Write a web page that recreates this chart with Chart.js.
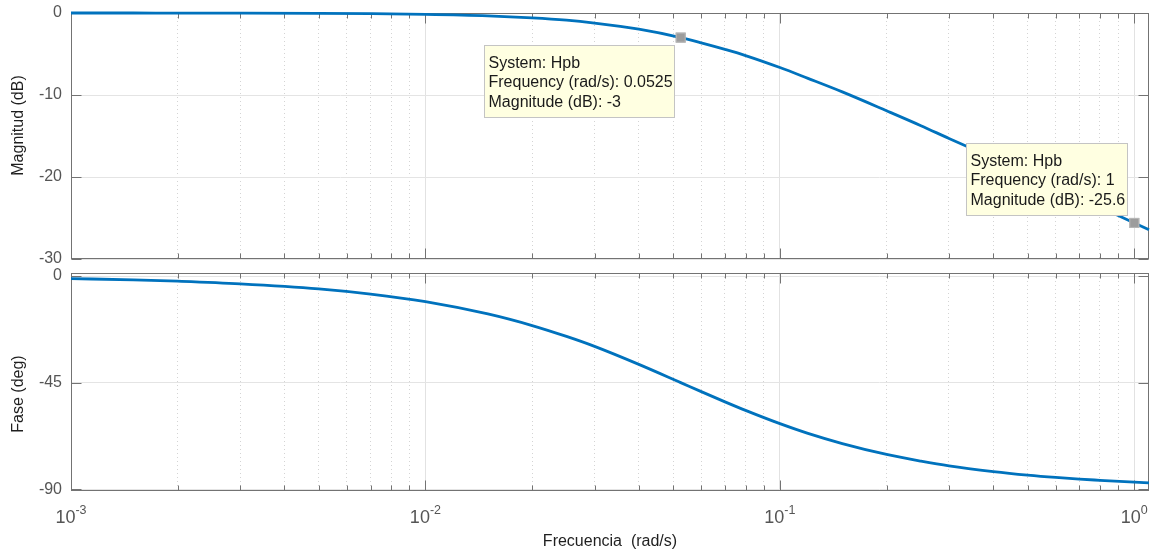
<!DOCTYPE html>
<html>
<head>
<meta charset="utf-8">
<script src="https://cdn.jsdelivr.net/npm/chart.js@4/dist/chart.umd.min.js"></script>
<style>
  body { margin: 0; background: #fff; }
  #wrap { position: relative; width: 1152px; height: 556px; }
  canvas { position: absolute; left: 0; }
</style>
</head>
<body>
<div id="wrap">
  <canvas id="mag" width="1152" height="268" style="top:0px"></canvas>
  <canvas id="phase" width="1152" height="292" style="top:264px"></canvas>
</div>
<script>
// values (rad/s, dB, deg)
const freq = [0.001, 0.0015, 0.002, 0.003, 0.005, 0.007, 0.01, 0.015, 0.02, 0.025,
  0.03, 0.04, 0.0525, 0.06, 0.07, 0.08, 0.1, 0.12, 0.15, 0.2,
  0.25, 0.3, 0.4, 0.5, 0.6, 0.7, 0.8, 1, 1.1];
const magnitude = [0, 0, -0.01, -0.01, -0.04, -0.08, -0.16, -0.34, -0.59, -0.88,
  -1.24, -1.98, -3.0, -3.64, -4.44, -5.19, -6.65, -7.97, -9.62, -11.92,
  -13.74, -15.3, -17.71, -19.62, -21.19, -22.52, -23.68, -25.6, -26.43];
const phase = [-1.1, -1.6, -2.2, -3.3, -5.4, -7.6, -10.8, -16.0, -20.9, -25.5,
  -29.7, -37.3, -45, -48.8, -53.1, -56.7, -62.3, -66.4, -70.7, -75.3,
  -78.1, -80.1, -82.5, -84.0, -85.0, -85.7, -86.2, -87.0, -87.3];

const magTicks = [0, -10, -20, -30];
const phaseTicks = [0, -45, -90];
const decades = [0.001, 0.01, 0.1, 1];
const decadeExp = ['-3', '-2', '-1', '0'];

// data tips
const tipFreq = [0.0525, 1];
const tipMag = [-3, -25.6];
const tipLines = [
  ['System: Hpb', 'Frequency (rad/s): 0.0525', 'Magnitude (dB): -3'],
  ['System: Hpb', 'Frequency (rad/s): 1', 'Magnitude (dB): -25.6']
];

const FONT = "'Liberation Sans', Arial, sans-serif";
const BLUE = '#0072BD';

// minor ticks 1..9 per decade
const xTickValues = [];
for (let i = 0; i < decades.length - 1; i++) {
  for (let k = 1; k < 10; k++) xTickValues.push(decades[i] * k);
}
xTickValues.push(decades[decades.length - 1]);

function line(ctx, x1, y1, x2, y2) {
  ctx.beginPath(); ctx.moveTo(x1, y1); ctx.lineTo(x2, y2); ctx.stroke();
}

function noPad(s) {
  s.paddingTop = 0; s.paddingBottom = 0; s.paddingLeft = 0; s.paddingRight = 0;
}

const bode = {
  id: 'bode',
  beforeDatasetsDraw(chart) {
    const {ctx, chartArea: a, scales: {x, y}} = chart;
    ctx.save();
    ctx.strokeStyle = '#737373';
    ctx.lineWidth = 1;
    const L = Math.round(a.left) + 0.5, R = Math.round(a.right) - 0.5;
    const T = Math.round(a.top) + 0.5, B = Math.round(a.bottom) - 0.5;
    ctx.strokeRect(L, T, R - L, B - T);
    x.ticks.forEach(t => {
      const px = Math.round(x.getPixelForValue(t.value)) + 0.5;
      const len = t.major ? 10 : 5;
      line(ctx, px, T, px, T + len);
      line(ctx, px, B, px, B - len);
    });
    y.ticks.forEach(t => {
      const py = Math.round(y.getPixelForValue(t.value)) + 0.5;
      line(ctx, L, py, L + 10, py);
      line(ctx, R, py, R - 10, py);
    });
    ctx.restore();
  },
  afterDraw(chart, args, opts) {
    const {ctx, scales: {x, y}} = chart;
    ctx.save();
    // y title
    ctx.translate(opts.titleX, opts.titleY);
    ctx.rotate(-Math.PI / 2);
    ctx.font = '16px ' + FONT;
    ctx.fillStyle = '#1f1f1f';
    ctx.textAlign = 'center';
    ctx.textBaseline = 'middle';
    ctx.fillText(opts.title, 0, 0);
    ctx.restore();

    if (opts.xLabels) {
      ctx.save();
      ctx.fillStyle = '#555';
      ctx.textBaseline = 'alphabetic';
      ctx.textAlign = 'left';
      decades.forEach((d, i) => {
        const px = x.getPixelForValue(d);
        ctx.font = '18px ' + FONT;
        const w1 = ctx.measureText('10').width;
        ctx.font = '12.5px ' + FONT;
        const w2 = ctx.measureText(decadeExp[i]).width;
        const sx = px - (w1 + w2) / 2;
        ctx.font = '18px ' + FONT;
        ctx.fillText('10', sx, opts.labelBase);
        ctx.font = '12.5px ' + FONT;
        ctx.fillText(decadeExp[i], sx + w1, opts.labelBase - 9);
      });
      ctx.restore();
    }

    if (opts.tips) {
      ctx.save();
      tipFreq.forEach((f, i) => {
        const px = x.getPixelForValue(f), py = y.getPixelForValue(tipMag[i]);
        const off = opts.tips[i];
        const bx = Math.round(px + off[0]) + 0.5, by = Math.round(py + off[1]) + 0.5;
        ctx.font = '16px ' + FONT;
        const w = Math.round(Math.max(...tipLines[i].map(s => ctx.measureText(s).width))) + 6;
        const h = 72;
        ctx.fillStyle = '#ffffe1';
        ctx.strokeStyle = '#c4c4c4';
        ctx.lineWidth = 1;
        ctx.fillRect(bx, by, w, h);
        ctx.strokeRect(bx, by, w, h);
        ctx.fillStyle = '#1a1a1a';
        ctx.textBaseline = 'middle';
        tipLines[i].forEach((s, j) => ctx.fillText(s, bx + 4, by + 18 + j * 19.5));
        ctx.fillStyle = '#9c9c9c';
        ctx.fillRect(px - 5, py - 5, 10, 10);
        ctx.strokeStyle = '#b8b8b8';
        ctx.strokeRect(px - 4.5, py - 4.5, 9, 9);
      });
      ctx.restore();
    }
  }
};

function xAxis(h, title) {
  return {
    type: 'logarithmic',
    min: 0.001,
    max: 1.1,
    afterBuildTicks: s => { s.ticks = xTickValues.map(v => ({value: v, major: decades.includes(v)})); },
    afterFit: s => { s.height = h; noPad(s); },
    ticks: {display: false, autoSkip: false},
    grid: {
      drawTicks: false,
      lineWidth: 1,
      color: c => (c.tick && c.tick.major) ? '#e2e2e2' : '#d4d4d4'
    },
    border: {display: false, dash: c => (c.tick && c.tick.major) ? [] : [1, 3]},
    title: title ? {
      display: true, text: title, color: '#1f1f1f',
      font: {family: FONT, size: 16}, padding: {top: 0, bottom: 5}
    } : {display: false}
  };
}

function yAxis(min, max, ticks) {
  return {
    min: min,
    max: max,
    afterBuildTicks: s => { s.ticks = ticks.map(v => ({value: v})); },
    afterFit: s => { s.width = 71; noPad(s); },
    ticks: {color: '#555', padding: 9, font: {family: FONT, size: 16}},
    grid: {drawTicks: false, color: '#e4e4e4', lineWidth: 1},
    border: {display: false}
  };
}

function dataset(vals) {
  return {
    data: freq.map((f, i) => ({x: f, y: vals[i]})),
    borderColor: BLUE,
    borderWidth: 2.8,
    pointRadius: 0,
    fill: false,
    cubicInterpolationMode: 'monotone',
    clip: 4
  };
}

const common = {
  responsive: false,
  animation: false,
  events: []
};

new Chart(document.getElementById('mag').getContext('2d'), {
  type: 'line',
  data: {datasets: [dataset(magnitude)]},
  options: Object.assign({}, common, {
    layout: {padding: {left: 0, right: 3, top: 13, bottom: 0}},
    scales: {x: xAxis(9), y: yAxis(-30, 0, magTicks)},
    plugins: {
      legend: {display: false},
      tooltip: {enabled: false},
      bode: {title: 'Magnitud (dB)', titleX: 19, titleY: 125.5, tips: [[-197, 7.5], [-168, -80]]}
    }
  }),
  plugins: [bode]
});

new Chart(document.getElementById('phase').getContext('2d'), {
  type: 'line',
  data: {datasets: [dataset(phase)]},
  options: Object.assign({}, common, {
    layout: {padding: {left: 0, right: 3, top: 9, bottom: 0}},
    scales: {x: xAxis(65, 'Frecuencia  (rad/s)'), y: yAxis(-90.72, 1.27, phaseTicks)},
    plugins: {
      legend: {display: false},
      tooltip: {enabled: false},
      bode: {title: 'Fase (deg)', titleX: 19, titleY: 130, xLabels: true, labelBase: 259}
    }
  }),
  plugins: [bode]
});
</script>
</body>
</html>
